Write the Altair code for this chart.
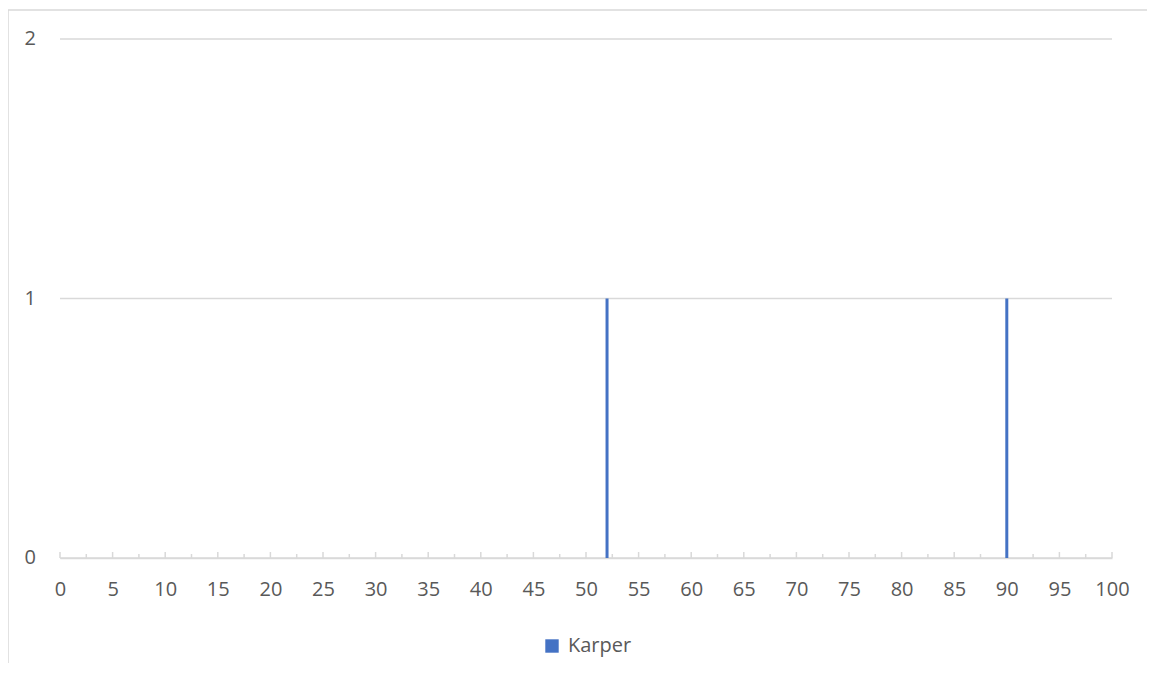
import altair as alt
import pandas as pd

# Data
lengths = [52, 90]
counts = [1, 1]
series = ["Karper", "Karper"]

x_labels = [0, 5, 10, 15, 20, 25, 30, 35, 40, 45, 50, 55, 60, 65, 70, 75, 80, 85, 90, 95, 100]
x_minor = [2.5, 7.5, 12.5, 17.5, 22.5, 27.5, 32.5, 37.5, 42.5, 47.5, 52.5, 57.5,
           62.5, 67.5, 72.5, 77.5, 82.5, 87.5, 92.5, 97.5]
y_ticks = [0, 1, 2]
y_tick_labels = ["0", "1", "2"]

W, H = 1052, 519
FONT = "Open Sans"
GREY = "#D9D9D9"
TXT = "#595959"

df = pd.DataFrame({"length": lengths, "count": counts, "series": series})
major_df = pd.DataFrame({"t": x_labels})
minor_df = pd.DataFrame({"t": x_minor})
ytick_df = pd.DataFrame({"v": y_ticks, "lab": y_tick_labels})

xscale = alt.Scale(domain=[0, 100], nice=False, zero=False, padding=0)
yscale = alt.Scale(domain=[0, 2], nice=False, padding=0)

border = alt.Chart(pd.DataFrame({"a": [0]})).mark_rect(
    fillOpacity=0, stroke=GREY, strokeWidth=1.5
).encode(
    x=alt.value(-52), x2=alt.value(1300), y=alt.value(-29), y2=alt.value(800)
)

grid = alt.Chart(ytick_df).mark_rule(color=GREY, strokeWidth=1.5).encode(
    y=alt.Y("v:Q", scale=yscale, axis=None), x=alt.value(0), x2=alt.value(W)
)
ylabels = alt.Chart(ytick_df).mark_text(
    align="right", baseline="middle", font=FONT, fontSize=20, color=TXT
).encode(
    y=alt.Y("v:Q", scale=yscale, axis=None), x=alt.value(-24), text="lab:N"
)

bars = alt.Chart(df).mark_bar(size=3).encode(
    x=alt.X("length:Q", scale=xscale,
            axis=alt.Axis(values=x_labels, tickCount=21, title=None, grid=False,
                          ticks=False, domainColor=GREY, domainWidth=1.5,
                          labelFont=FONT, labelFontSize=20, labelColor=TXT,
                          labelPadding=21, labelFlush=False, labelOverlap=False)),
    y=alt.Y("count:Q", scale=yscale, axis=None),
    color=alt.Color("series:N", scale=alt.Scale(range=["#4472C4"]),
                    legend=alt.Legend(title=None, orient="none", legendX=482,
                                      legendY=597, symbolType="square",
                                      symbolSize=180, symbolStrokeWidth=0,
                                      labelFont=FONT, labelFontSize=20,
                                      labelColor=TXT, padding=0, labelOffset=6)),
)

major_ticks = alt.Chart(major_df).mark_rule(color=GREY, strokeWidth=1.5).encode(
    x=alt.X("t:Q", scale=xscale), y=alt.value(H), y2=alt.value(H - 6)
)
minor_ticks = alt.Chart(minor_df).mark_rule(color=GREY, strokeWidth=1.5).encode(
    x=alt.X("t:Q", scale=xscale), y=alt.value(H), y2=alt.value(H - 4)
)

chart = alt.layer(border, grid, ylabels, major_ticks, minor_ticks, bars).properties(
    width=W, height=H,
    background="white",
    autosize=alt.AutoSizeParams(type="none"),
    padding={"left": 52, "top": 31, "right": 35, "bottom": 105},
).configure_view(stroke=None)

chart.save("out.html", embed_options={"renderer": "svg", "actions": False})
